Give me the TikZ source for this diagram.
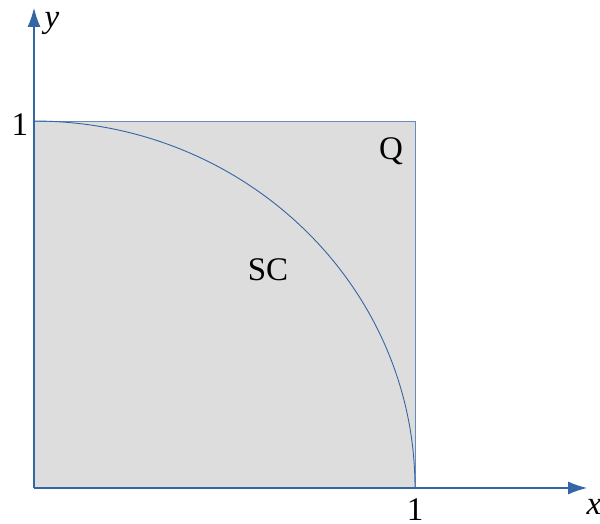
\documentclass[tikz,border=0pt]{standalone}
\usepackage{fontspec}
\setmainfont{Liberation Serif}
\usetikzlibrary{arrows.meta}
\definecolor{axisblue}{RGB}{52,101,164}
\definecolor{sqgray}{RGB}{221,221,221}
\tikzset{
  axis/.style = {axisblue, line width=1.2pt, -{Latex[length=19pt,width=13pt]}},
  lbl/.style = {font=\fontsize{33}{36}\selectfont, inner sep=0pt}
}
\begin{document}
\begin{tikzpicture}[x=1pt,y=1pt]
\useasboundingbox (0,0) rectangle (600,524);
\coordinate (O) at (34,36);
\coordinate (A) at (415,36);
\coordinate (B) at (34,403);
\coordinate (C) at (415,403);
\fill[sqgray] (O) rectangle (C);
\draw[axisblue!75, line width=0.9pt] (B) -- (C) -- (A);
\draw[axisblue, line width=0.9pt] (B) arc[start angle=90, end angle=0, x radius=381, y radius=367];

\coordinate (xend) at (587,36);
\coordinate (yend) at (34,516);
\draw[axis] (O) -- (xend);
\draw[axis] (O) -- (yend);

\node[lbl] (xlab) at (594,17) {\textit{x}};
\node[lbl] (ylab) at (52,501) {\textit{y}};
\node[lbl] (one x) at (415,14) {1};
\node[lbl] (one y) at (20,399) {1};
\node[lbl] (qlab) at (391,373) {Q};
\node[lbl] (sclab) at (268,254) {SC};
\end{tikzpicture}
\end{document}
